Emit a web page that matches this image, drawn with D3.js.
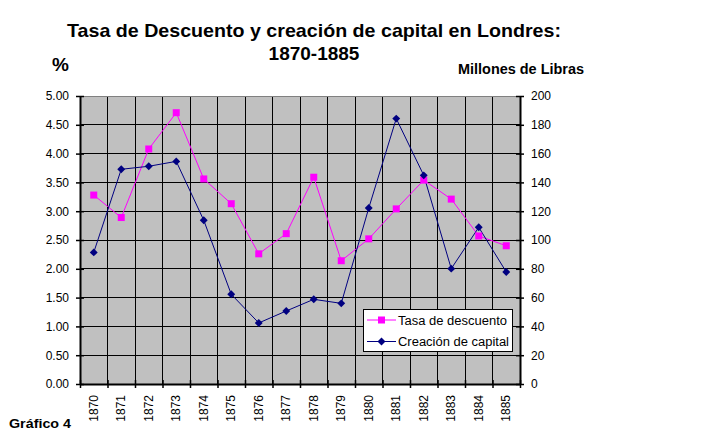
<!DOCTYPE html>
<html>
<head>
<meta charset="utf-8">
<script src="https://cdn.jsdelivr.net/npm/d3@7/dist/d3.min.js"></script>
<style>
  html, body { margin: 0; padding: 0; background: #fff; }
  svg { display: block; }
  text { font-family: "Liberation Sans", Arial, sans-serif; fill: #000; }
</style>
</head>
<body>
<svg id="chart" width="704" height="441"></svg>
<script>
const years = ["1870","1871","1872","1873","1874","1875","1876","1877","1878","1879","1880","1881","1882","1883","1884","1885"];
const tasaDescuento = [3.28, 2.89, 4.08, 4.71, 3.56, 3.13, 2.26, 2.61, 3.59, 2.14, 2.52, 3.04, 3.54, 3.21, 2.57, 2.40];
const creacionCapital = [91.4, 149.1, 151.2, 154.6, 113.7, 62.3, 42.4, 50.7, 58.8, 56.0, 122.2, 184.3, 144.9, 80.1, 108.8, 77.8];
const leftTicks = [0, 0.5, 1, 1.5, 2, 2.5, 3, 3.5, 4, 4.5, 5];
const rightTicks = [0, 20, 40, 60, 80, 100, 120, 140, 160, 180, 200];

const svg = d3.select("#chart");
const L = 80, R = 520, T = 96, B = 384;

const x = d3.scaleBand().domain(years).range([L, R]).padding(0);
const yL = d3.scaleLinear().domain([0, 5]).range([B, T]);
const yR = d3.scaleLinear().domain([0, 200]).range([B, T]);

// plot background
svg.append("rect").attr("x", L).attr("y", T).attr("width", R - L).attr("height", B - T).attr("fill", "#C0C0C0");

// horizontal gridlines
svg.append("g").selectAll("line").data(leftTicks.filter(d => d > 0 && d < 5)).join("line")
  .attr("x1", L).attr("x2", R).attr("y1", d => yL(d)).attr("y2", d => yL(d))
  .attr("stroke", "#000").attr("stroke-width", 1).attr("shape-rendering", "crispEdges");

// vertical gridlines at category boundaries
const bounds = years.slice(1).map(d => x(d));
svg.append("g").selectAll("line").data(bounds).join("line")
  .attr("x1", d => d).attr("x2", d => d).attr("y1", T).attr("y2", B)
  .attr("stroke", "#000").attr("stroke-width", 1).attr("shape-rendering", "crispEdges");

// top border
svg.append("line").attr("x1", L).attr("x2", R).attr("y1", T + 0.5).attr("y2", T + 0.5)
  .attr("stroke", "#808080").attr("stroke-width", 1);

// left axis
const gL = svg.append("g").attr("transform", `translate(${L},0)`)
  .call(d3.axisLeft(yL).tickValues(leftTicks).tickFormat(d3.format(".2f")).tickSizeInner(4).tickSizeOuter(0).tickPadding(8));
gL.select(".domain").attr("stroke", "#000").attr("stroke-width", 2);
gL.selectAll(".tick line").attr("x2", -4).attr("x1", 4).attr("stroke-width", 1.5);
gL.selectAll(".tick text").attr("font-size", 12).attr("font-family", "Liberation Sans, Arial, sans-serif").attr("x", -11);

// right axis
const gR = svg.append("g").attr("transform", `translate(${R},0)`)
  .call(d3.axisRight(yR).tickValues(rightTicks).tickSizeInner(4).tickSizeOuter(0).tickPadding(8));
gR.select(".domain").attr("stroke", "#000").attr("stroke-width", 2);
gR.selectAll(".tick line").attr("x1", -4).attr("x2", 4).attr("stroke-width", 1.5);
gR.selectAll(".tick text").attr("font-size", 12).attr("font-family", "Liberation Sans, Arial, sans-serif").attr("x", 11);

// bottom axis
const xTickAxis = d3.scaleLinear().domain([0, years.length]).range([L, R]);
const gB = svg.append("g").attr("transform", `translate(0,${B})`)
  .call(d3.axisBottom(xTickAxis).tickValues(d3.range(0, years.length + 1)).tickFormat("").tickSizeInner(4).tickSizeOuter(0));
gB.select(".domain").attr("stroke", "#000").attr("stroke-width", 2);
gB.selectAll(".tick line").attr("y1", -4).attr("y2", 4).attr("stroke-width", 1.5);

// x labels rotated
svg.append("g").selectAll("text").data(years).join("text")
  .attr("transform", d => `translate(${x(d) + x.bandwidth() / 2 + 4},395) rotate(-90)`)
  .attr("text-anchor", "end").attr("font-size", 12).text(d => d);

// lines
const cx = d => x(d) + x.bandwidth() / 2;
const lineL = d3.line().x((d, i) => cx(years[i])).y(d => yL(d));
const lineR = d3.line().x((d, i) => cx(years[i])).y(d => yR(d));

svg.append("path").datum(tasaDescuento).attr("d", lineL).attr("fill", "none").attr("stroke", "#FF00FF").attr("stroke-width", 1);
svg.append("path").datum(creacionCapital).attr("d", lineR).attr("fill", "none").attr("stroke", "#000080").attr("stroke-width", 1);

svg.append("g").selectAll("rect").data(tasaDescuento).join("rect")
  .attr("x", (d, i) => cx(years[i]) - 3.5).attr("y", d => yL(d) - 3.5)
  .attr("width", 7).attr("height", 7).attr("fill", "#FF00FF");

const diamond = d3.symbol().type(d3.symbolDiamond2).size(40);
svg.append("g").selectAll("path").data(creacionCapital).join("path")
  .attr("transform", (d, i) => `translate(${cx(years[i])},${yR(d)})`)
  .attr("d", diamond).attr("fill", "#000080");

// legend
const lg = svg.append("g");
lg.append("rect").attr("x", 363.5).attr("y", 309.5).attr("width", 149).attr("height", 42)
  .attr("fill", "#fff").attr("stroke", "#000").attr("stroke-width", 1);
lg.append("line").attr("x1", 367).attr("x2", 396).attr("y1", 320).attr("y2", 320).attr("stroke", "#FF00FF");
lg.append("rect").attr("x", 378).attr("y", 316.5).attr("width", 7).attr("height", 7).attr("fill", "#FF00FF");
lg.append("text").attr("x", 398).attr("y", 324.5).attr("font-size", 12).attr("textLength", 109).attr("lengthAdjust", "spacingAndGlyphs").text("Tasa de descuento");
lg.append("line").attr("x1", 367).attr("x2", 396).attr("y1", 341.5).attr("y2", 341.5).attr("stroke", "#000080");
lg.append("path").attr("transform", "translate(381.5,341.5)").attr("d", diamond).attr("fill", "#000080");
lg.append("text").attr("x", 398).attr("y", 346).attr("font-size", 12).attr("textLength", 111).attr("lengthAdjust", "spacingAndGlyphs").text("Creación de capital");

// titles
svg.append("text").attr("x", 314).attr("y", 37).attr("text-anchor", "middle").attr("font-size", 19).attr("font-weight", "bold")
  .attr("textLength", 494).attr("lengthAdjust", "spacingAndGlyphs").text("Tasa de Descuento y creación de capital en Londres:");
svg.append("text").attr("x", 314).attr("y", 60).attr("text-anchor", "middle").attr("font-size", 19).attr("font-weight", "bold")
  .text("1870-1885");
svg.append("text").attr("x", 52).attr("y", 71).attr("font-size", 19).attr("font-weight", "bold").text("%");
svg.append("text").attr("x", 458).attr("y", 74).attr("font-size", 14).attr("font-weight", "bold")
  .attr("textLength", 126).attr("lengthAdjust", "spacingAndGlyphs").text("Millones de Libras");
svg.append("text").attr("x", 9).attr("y", 428).attr("font-size", 13.5).attr("font-weight", "bold")
  .attr("textLength", 62).attr("lengthAdjust", "spacingAndGlyphs").text("Gráfico 4");
</script>
</body>
</html>
